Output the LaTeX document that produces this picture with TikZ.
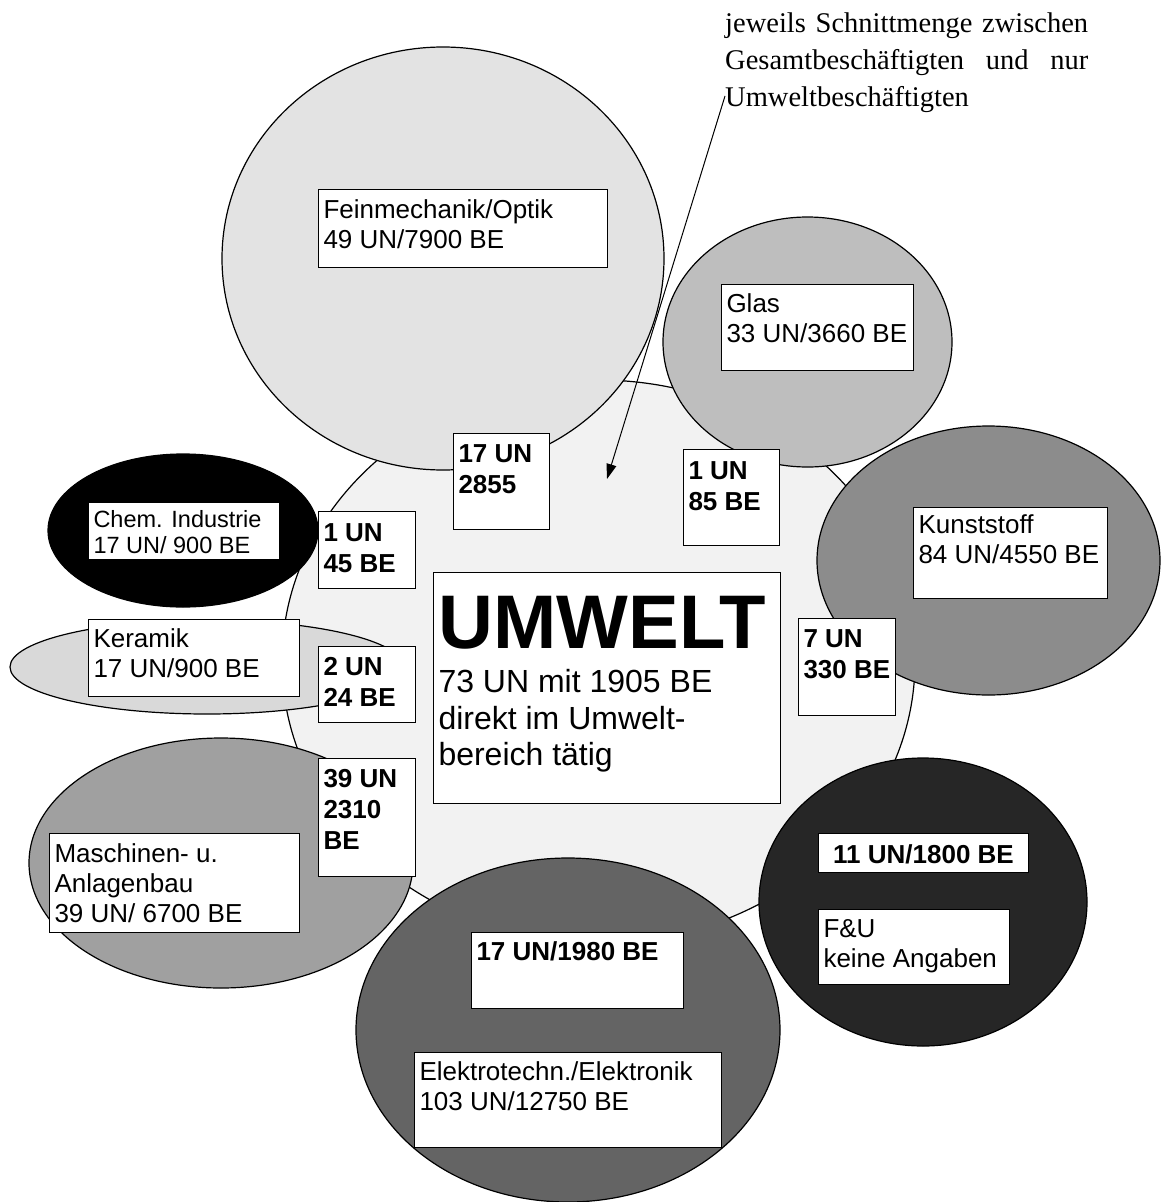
\documentclass[tikz,border=0pt]{standalone}
\usepackage{fontspec}
\setmainfont{Liberation Sans}
\newfontfamily\notefont{Liberation Serif}
\usetikzlibrary{arrows.meta}
\definecolor{cUmw}{HTML}{F2F2F2}
\definecolor{cFein}{HTML}{E3E3E3}
\definecolor{cGlas}{HTML}{BEBEBE}
\definecolor{cKunst}{HTML}{8C8C8C}
\definecolor{cChem}{HTML}{000000}
\definecolor{cKeram}{HTML}{D9D9D9}
\definecolor{cMasch}{HTML}{A0A0A0}
\definecolor{cElek}{HTML}{646464}
\definecolor{cFU}{HTML}{262626}
\tikzset{
  blob/.style={draw=black, line width=1.2pt},
  lbl/.style={draw=black, fill=white, line width=1pt, inner sep=0pt, anchor=north west,
              font=\fontsize{26}{30}\selectfont},
  pointer/.style={draw=black, line width=1pt, -{Triangle[length=15pt,width=10pt]}}
}
\newcommand{\lbox}[7]{\node[lbl] (#1) at (#2,#3)
  {\parbox[c][#5pt][t]{#4pt}{\raggedright\leftskip=5pt\relax\rule{0pt}{#6pt}#7}};}
\newcommand{\bsz}{\fontsize{26}{31}\selectfont\bfseries}
\begin{document}
\begin{tikzpicture}[x=1pt,y=-1pt]
\useasboundingbox (0,0) rectangle (1160,1202);
% sets
\draw[blob, fill=cUmw]   (598.5,661.5) ellipse [x radius=316.5pt, y radius=281.5pt];
\draw[blob, fill=cFein]  (443,258.5)   ellipse [x radius=221pt, y radius=211.5pt];
\draw[blob, fill=cGlas]  (807.5,342)   ellipse [x radius=144.5pt, y radius=125pt];
\draw[blob, fill=cKunst] (988.5,560.5) ellipse [x radius=171.5pt, y radius=134.5pt];
\draw[blob, fill=cChem]  (183,530.5)   ellipse [x radius=135pt, y radius=76.5pt];
\draw[blob, fill=cKeram] (207,667)     ellipse [x radius=197pt, y radius=47pt];
\draw[blob, fill=cMasch] (221,863)     ellipse [x radius=192pt, y radius=125pt];
\draw[blob, fill=cElek]  (568,1030)    ellipse [x radius=212pt, y radius=172pt];
\draw[blob, fill=cFU]    (923,902)     ellipse [x radius=164pt, y radius=144pt];
% labels
\lbox{fein}{318}{189}{289}{78}{29}{Feinmechanik/Optik\\49 UN/7900 BE}
\lbox{glas}{721}{284}{192}{86}{28}{Glas\\33 UN/3660 BE}
\lbox{kunst}{913}{507}{194}{91}{26}{Kunststoff\\84 UN/4550 BE}
\lbox{chem}{88}{502}{191}{57}{25}{\fontsize{23.5}{26}\selectfont Chem. Industrie\\17 UN/ 900 BE}
\lbox{keram}{88}{619}{211}{77}{28}{Keramik\\17 UN/900 BE}
\lbox{masch}{49}{833}{250}{99}{29}{Maschinen- u.\\Anlagenbau\\39 UN/ 6700 BE}
\lbox{elek}{414}{1052}{307}{95}{28}{Elektrotechn./Elektronik\\103 UN/12750 BE}
\lbox{fu}{818}{909}{191}{75}{28}{F\&U\\keine Angaben}
\lbox{fuun}{818}{833}{210}{39}{30}{\centering\bsz 11 UN/1800 BE}
\lbox{elun}{471}{932}{212}{76}{28}{\bsz 17 UN/1980 BE}
\lbox{sfein}{453}{433}{96}{96}{29}{\bsz 17 UN\\2855}
\lbox{sglas}{683}{449}{96}{96}{30}{\bsz 1 UN\\85 BE}
\lbox{schem}{318}{511}{97}{77}{30}{\bsz 1 UN\\45 BE}
\lbox{skeram}{318}{646}{97}{76}{29}{\bsz 2 UN\\24 BE}
\lbox{smasch}{318}{758}{97}{118}{29}{\bsz 39 UN\\2310\\BE}
\lbox{skunst}{798}{618}{97}{97}{29}{\bsz 7 UN\\330 BE}
\node[lbl] (umw) at (433,572) {\parbox[c][231pt][t]{347pt}{\raggedright\leftskip=5pt\relax
  \fontsize{76}{82}\selectfont\bfseries\rule{0pt}{76pt}UMWELT\par\vspace{7.5pt}%
  \fontsize{32}{36.5}\selectfont\mdseries 73 UN mit 1905 BE\\direkt im Umwelt-\\bereich tätig\par}};
% note and pointer
\node[inner sep=0pt, anchor=north west] (note) at (725,0)
  {\parbox[t]{363pt}{\notefont\fontsize{28.5}{37}\selectfont\rule{0pt}{32pt}%
   \makebox[363pt][s]{jeweils Schnittmenge zwischen}\\
   \makebox[363pt][s]{Gesamtbeschäftigten und nur}\\
   Umweltbeschäftigten}};
\coordinate (ptrA) at (725,96);
\coordinate (ptrB) at (607,479);
\draw[pointer] (ptrA) -- (ptrB);
\end{tikzpicture}
\end{document}
